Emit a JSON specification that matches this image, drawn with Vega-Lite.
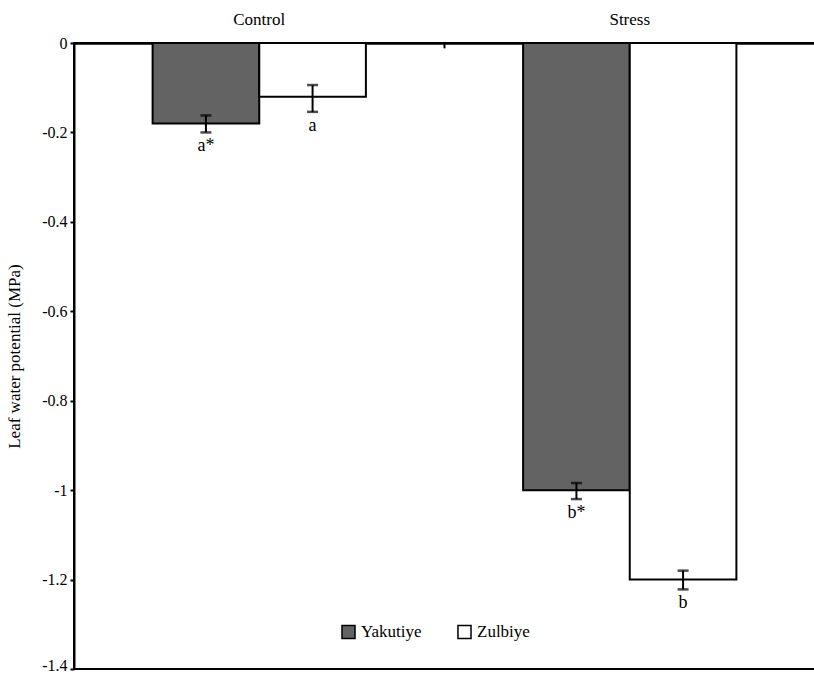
{
  "$schema": "https://vega.github.io/schema/vega-lite/v6.json",
  "autosize": {"type": "none"},
  "padding": {"left": 74, "top": 43, "right": 0, "bottom": 6},
  "width": 741,
  "height": 626,
  "background": "white",
  "config": {
    "font": "Liberation Serif",
    "view": {"stroke": "black", "strokeWidth": 2},
    "style": {
      "guide-label": {"font": "Liberation Serif", "fill": "black"},
      "guide-title": {"font": "Liberation Serif", "fill": "black"}
    },
    "axis": {"labelFont": "Liberation Serif", "titleFont": "Liberation Serif", "labelColor": "black", "titleColor": "black", "grid": false},
    "legend": {"labelFont": "Liberation Serif"},
    "text": {"font": "Liberation Serif"}
  },
  "data": {
    "values": [
      {"treatment": "Control", "cultivar": "Yakutiye", "value": -0.18, "lo": -0.2, "hi": -0.162, "label": "a*"},
      {"treatment": "Control", "cultivar": "Zulbiye", "value": -0.12, "lo": -0.154, "hi": -0.094, "label": "a"},
      {"treatment": "Stress", "cultivar": "Yakutiye", "value": -1.0, "lo": -1.02, "hi": -0.984, "label": "b*"},
      {"treatment": "Stress", "cultivar": "Zulbiye", "value": -1.2, "lo": -1.222, "hi": -1.18, "label": "b"}
    ]
  },
  "encoding": {
    "x": {
      "field": "treatment", "type": "nominal",
      "scale": {"domain": ["Control", "Stress"], "paddingInner": 0, "paddingOuter": 0},
      "axis": {"orient": "top", "title": null, "labelAngle": 0, "ticks": false, "tickSize": 0, "labelPadding": 15, "labelFont": "Liberation Serif", "labelFontSize": 17, "domainColor": "black", "domainWidth": 2.5}
    },
    "xOffset": {
      "field": "cultivar", "type": "nominal",
      "scale": {"domain": ["Yakutiye", "Zulbiye"], "paddingInner": 0, "paddingOuter": 0.737}
    }
  },
  "layer": [
    {
      "mark": {"type": "bar", "stroke": "black", "strokeWidth": 2},
      "encoding": {
        "y": {
          "field": "value", "type": "quantitative",
          "scale": {"domain": [-1.4, 0], "nice": false, "zero": false},
          "axis": {
            "title": "Leaf water potential (MPa)", "titleFont": "Liberation Serif", "titleFontSize": 17, "titleFontWeight": "normal", "titlePadding": 18,
            "values": [0, -0.2, -0.4, -0.6, -0.8, -1, -1.2, -1.4],
            "labelExpr": "datum.value == 0 ? '0' : '-' + format(-datum.value, '.1~f')",
            "labelFont": "Liberation Serif", "labelFontSize": 16, "labelPadding": 3, "tickSize": 4, "tickWidth": 2, "tickColor": "black",
            "labelOffset": {"condition": {"test": "datum.value <= -1.39", "value": -4}, "value": 0},
            "domainColor": "black", "domainWidth": 2
          }
        },
        "y2": {"datum": 0},
        "fill": {
          "field": "cultivar", "type": "nominal",
          "scale": {"domain": ["Yakutiye", "Zulbiye"], "range": ["#636363", "#ffffff"]},
          "legend": {
            "orient": "none", "legendX": 266, "legendY": 580, "direction": "horizontal", "title": null,
            "symbolType": "square", "symbolSize": 170, "symbolStrokeColor": "black", "symbolStrokeWidth": 1.5,
            "labelFont": "Liberation Serif", "labelFontSize": 17, "labelColor": "black", "columnPadding": 32, "labelOffset": 4
          }
        }
      }
    },
    {
      "mark": {"type": "rule", "color": "black", "strokeWidth": 2},
      "encoding": {
        "y": {"field": "lo", "type": "quantitative"},
        "y2": {"field": "hi"}
      }
    },
    {
      "mark": {"type": "tick", "color": "black", "thickness": 2.5, "size": 11},
      "encoding": {"y": {"field": "lo", "type": "quantitative"}}
    },
    {
      "mark": {"type": "tick", "color": "black", "thickness": 2.5, "size": 11},
      "encoding": {"y": {"field": "hi", "type": "quantitative"}}
    },
    {
      "mark": {"type": "text", "baseline": "top", "dy": 5, "fontSize": 18, "color": "black", "font": "Liberation Serif"},
      "encoding": {
        "y": {"field": "lo", "type": "quantitative"},
        "text": {"field": "label"}
      }
    },
    {
      "data": {"values": [{"treatment": "Stress"}]},
      "mark": {"type": "rule", "color": "black", "strokeWidth": 2},
      "encoding": {
        "x": {"field": "treatment", "type": "nominal", "bandPosition": 0},
        "xOffset": null,
        "y": {"datum": 0},
        "y2": {"datum": -0.012}
      }
    }
  ]
}
